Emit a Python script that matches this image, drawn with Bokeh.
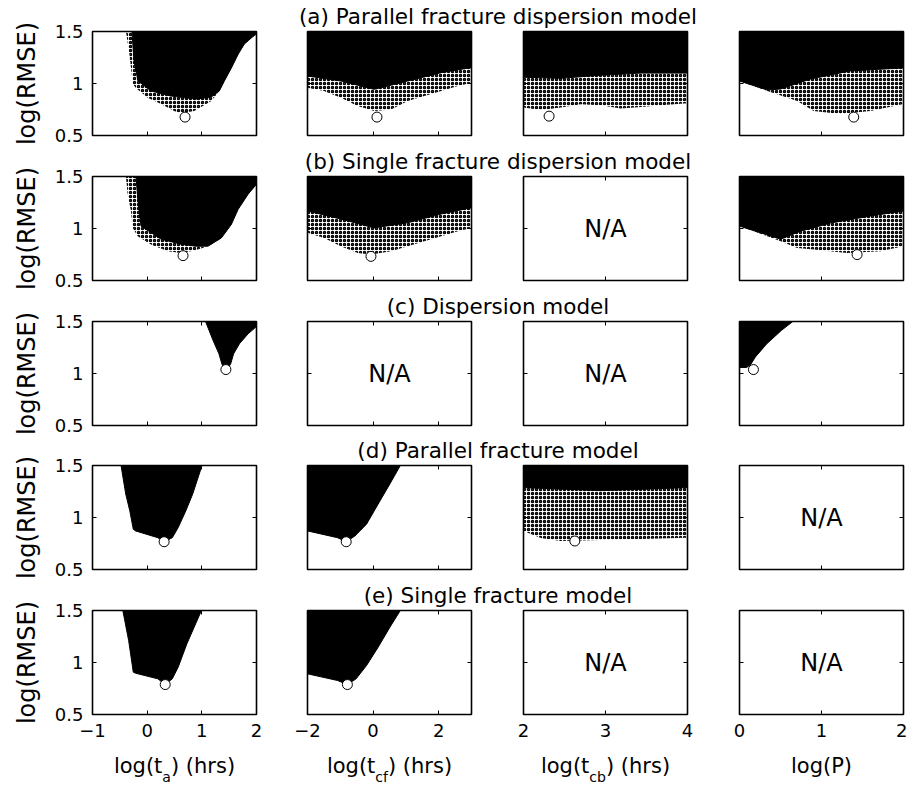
import math
from bokeh.plotting import figure
from bokeh.layouts import column, row
from bokeh.models import Range1d, FixedTicker, LinearAxis
from bokeh.embed import file_html
from bokeh.resources import INLINE
from bokeh.core.properties import value

FONT = "DejaVu Sans"

# ---------------- data ----------------
TITLES = ["(a) Parallel fracture dispersion model",
          "(b) Single fracture dispersion model",
          "(c) Dispersion model",
          "(d) Parallel fracture model",
          "(e) Single fracture model"]
Y_MIN, Y_MAX = 0.5, 1.5
Y_TICKS = [0.5, 1, 1.5]
COL_XMIN = [-1, -2, 2, 0]
COL_XMAX = [2, 3, 4, 2]
COL_TICKS = [[-1, 0, 1, 2], [-2, 0, 2], [2, 3, 4], [0, 1, 2]]
X_LABEL_HEAD = ["log(t", "log(t", "log(t", "log(P)"]
X_LABEL_SUB = ["a", "cf", "cb", ""]
X_LABEL_TAIL = [") (hrs)", ") (hrs)", ") (hrs)", ""]
Y_LABEL = "log(RMSE)"
NA_TEXT = "N/A"

# (a) parallel fracture dispersion model
A1_CORE_X = [-0.278, -0.241, -0.168, 0.071, 0.438, 0.898, 1.173, 1.32, 1.412, 1.541, 1.669, 1.779, 1.908, 2.0]
A1_CORE_Y = [1.5, 1.217, 1.024, 0.928, 0.879, 0.85, 0.87, 0.928, 1.024, 1.15, 1.285, 1.381, 1.439, 1.478]
A1_FRINGE_X = [-0.388, -0.333, -0.26, -0.205, 0.016, 0.255, 0.493, 0.621, 0.861, 1.173, 1.32, 1.412, 1.541, 1.669, 1.779, 1.908, 2.0]
A1_FRINGE_Y = [1.5, 1.314, 0.995, 0.957, 0.86, 0.802, 0.735, 0.715, 0.735, 0.831, 0.928, 1.024, 1.15, 1.285, 1.381, 1.439, 1.478]
A1_BEST = (0.693, 0.677)

A2_CORE_X = [-2.0, -0.982, 0.035, 1.056, 2.074, 3.0]
A2_CORE_Y = [1.072, 1.024, 0.944, 1.024, 1.104, 1.153]
A2_FRINGE_X = [-2.0, -1.493, -0.982, -0.472, 0.035, 0.546, 1.056, 1.563, 2.074, 2.584, 3.0]
A2_FRINGE_Y = [0.959, 0.928, 0.863, 0.783, 0.735, 0.751, 0.831, 0.879, 0.928, 0.976, 1.008]
A2_BEST = (0.118, 0.677)

A3_CORE_X = [2.0, 2.455, 2.943, 3.431, 4.0]
A3_CORE_Y = [1.06, 1.05, 1.08, 1.1, 1.1]
A3_FRINGE_X = [2.0, 2.211, 2.455, 2.699, 2.943, 3.187, 3.431, 3.675, 4.0]
A3_FRINGE_Y = [0.77, 0.745, 0.77, 0.8, 0.79, 0.76, 0.775, 0.79, 0.81]
A3_BEST = (2.312, 0.686)

A4_CORE_X = [0.0, 0.34, 0.502, 0.866, 1.352, 2.0]
A4_CORE_Y = [1.024, 0.937, 0.947, 1.043, 1.121, 1.15]
A4_FRINGE_X = [0.0, 0.34, 0.705, 0.903, 1.231, 1.595, 2.0]
A4_FRINGE_Y = [1.024, 0.928, 0.831, 0.735, 0.706, 0.735, 0.802]
A4_BEST = (1.393, 0.677)

# (b) single fracture dispersion model
B1_CORE_X = [-0.205, -0.168, -0.113, 0.255, 0.622, 0.898, 1.113, 1.357, 1.54, 1.664, 1.847, 2.0]
B1_CORE_Y = [1.5, 1.265, 1.023, 0.897, 0.849, 0.829, 0.83, 0.909, 1.039, 1.184, 1.33, 1.426]
B1_FRINGE_X = [-0.388, -0.357, -0.296, -0.265, -0.173, 0.071, 0.378, 0.622, 0.866, 1.113, 1.357, 1.54, 1.664, 1.847, 2.0]
B1_FRINGE_Y = [1.5, 1.33, 1.168, 1.007, 0.926, 0.846, 0.781, 0.764, 0.788, 0.83, 0.909, 1.039, 1.184, 1.33, 1.426]
B1_BEST = (0.656, 0.739)

B2_CORE_X = [-2.0, -0.982, 0.026, 1.056, 2.074, 3.0]
B2_CORE_Y = [1.168, 1.091, 1.006, 1.055, 1.139, 1.2]
B2_FRINGE_X = [-2.0, -1.493, -0.982, -0.472, -0.065, 0.546, 1.056, 1.563, 2.074, 2.584, 3.0]
B2_FRINGE_Y = [0.958, 0.909, 0.829, 0.764, 0.749, 0.781, 0.829, 0.878, 0.926, 0.974, 1.006]
B2_BEST = (-0.065, 0.732)

B4_CORE_X = [0.0, 0.502, 0.745, 1.109, 1.595, 2.0]
B4_CORE_Y = [1.023, 0.897, 0.974, 1.052, 1.12, 1.168]
B4_FRINGE_X = [0.0, 0.502, 0.705, 0.906, 1.312, 1.717, 2.0]
B4_FRINGE_Y = [1.023, 0.878, 0.813, 0.797, 0.764, 0.781, 0.829]
B4_BEST = (1.434, 0.749)

# (c) dispersion model
C1_CORE_X = [1.068, 1.206, 1.313, 1.366, 1.394, 1.441, 1.486, 1.528, 1.581, 1.688, 1.847, 1.985, 2.0]
C1_CORE_Y = [1.5, 1.317, 1.189, 1.093, 1.058, 1.029, 1.058, 1.093, 1.189, 1.286, 1.382, 1.445, 1.452]
C1_BEST = (1.44, 1.038)

C4_CORE_X = [0.65, 0.509, 0.333, 0.192, 0.137, 0.088, 0.0]
C4_CORE_Y = [1.5, 1.413, 1.286, 1.157, 1.087, 1.058, 1.058]
C4_BEST = (0.17, 1.038)

# (d) parallel fracture model
D1_CORE_X = [-0.478, -0.392, -0.318, -0.254, -0.212, 0.194, 0.312, 0.46, 0.567, 0.707, 0.833, 0.993, 1.0]
D1_CORE_Y = [1.5, 1.226, 1.064, 0.887, 0.871, 0.806, 0.767, 0.806, 0.903, 1.064, 1.226, 1.484, 1.5]
D1_BEST = (0.31, 0.767)

D2_CORE_X = [0.83, 0.512, 0.154, -0.2, -0.554, -0.82, -1.086, -2.0]
D2_CORE_Y = [1.5, 1.323, 1.129, 0.936, 0.822, 0.767, 0.806, 0.871]
D2_BEST = (-0.82, 0.767)

D3_CORE_X = [2.0, 2.943, 4.0]
D3_CORE_Y = [1.287, 1.258, 1.287]
D3_FRINGE_X = [2.0, 2.211, 2.455, 2.943, 3.431, 4.0]
D3_FRINGE_Y = [0.871, 0.803, 0.774, 0.784, 0.793, 0.806]
D3_BEST = (2.626, 0.774)

# (e) single fracture model
E1_CORE_X = [-0.445, -0.339, -0.254, -0.212, 0.194, 0.332, 0.46, 0.567, 0.727, 0.887, 0.993]
E1_CORE_Y = [1.5, 1.212, 0.907, 0.897, 0.843, 0.788, 0.843, 0.955, 1.18, 1.372, 1.5]
E1_BEST = (0.33, 0.788)

E2_CORE_X = [0.83, 0.512, 0.154, -0.2, -0.518, -0.784, -1.086, -2.0]
E2_CORE_Y = [1.5, 1.339, 1.147, 0.971, 0.843, 0.788, 0.827, 0.891]
E2_BEST = (-0.784, 0.788)

# panel table: (core_x, core_y, fringe_x, fringe_y, best) or None for N/A
PANELS = [
    [(A1_CORE_X, A1_CORE_Y, A1_FRINGE_X, A1_FRINGE_Y, A1_BEST),
     (A2_CORE_X, A2_CORE_Y, A2_FRINGE_X, A2_FRINGE_Y, A2_BEST),
     (A3_CORE_X, A3_CORE_Y, A3_FRINGE_X, A3_FRINGE_Y, A3_BEST),
     (A4_CORE_X, A4_CORE_Y, A4_FRINGE_X, A4_FRINGE_Y, A4_BEST)],
    [(B1_CORE_X, B1_CORE_Y, B1_FRINGE_X, B1_FRINGE_Y, B1_BEST),
     (B2_CORE_X, B2_CORE_Y, B2_FRINGE_X, B2_FRINGE_Y, B2_BEST),
     None,
     (B4_CORE_X, B4_CORE_Y, B4_FRINGE_X, B4_FRINGE_Y, B4_BEST)],
    [(C1_CORE_X, C1_CORE_Y, None, None, C1_BEST),
     None, None,
     (C4_CORE_X, C4_CORE_Y, None, None, C4_BEST)],
    [(D1_CORE_X, D1_CORE_Y, None, None, D1_BEST),
     (D2_CORE_X, D2_CORE_Y, None, None, D2_BEST),
     (D3_CORE_X, D3_CORE_Y, D3_FRINGE_X, D3_FRINGE_Y, D3_BEST),
     None],
    [(E1_CORE_X, E1_CORE_Y, None, None, E1_BEST),
     (E2_CORE_X, E2_CORE_Y, None, None, E2_BEST),
     None, None],
]

# ---------------- layout geometry ----------------
PAGE_H = 785
YLAB_W = 44
FRAME_W, FRAME_H = 164, 104
BORDER_L = [48, 25, 25, 25]
BORDER_R = [26, 27, 27, 4]
BORDER_T = 2
BORDER_B = [11, 11, 10, 11, 32]
TITLE_H = [29, 28, 28, 28, 28]
XLAB_H = 39
MAIN_W = sum(BORDER_L) + sum(BORDER_R) + 4 * FRAME_W

COL_W = [BORDER_L[c] + FRAME_W + BORDER_R[c] for c in range(4)]
COL_CENTER = [sum(COL_W[:c]) + BORDER_L[c] + FRAME_W / 2 for c in range(4)]
FRAME_LEFT_ALL = BORDER_L[0]
FRAME_RIGHT_ALL = sum(COL_W[:3]) + BORDER_L[3] + FRAME_W
TITLE_W = MAIN_W - COL_W[0]
TITLE_CX = (FRAME_LEFT_ALL + FRAME_RIGHT_ALL) / 2 - COL_W[0]

ROW_CENTER = []
_y = 0
for _r in range(5):
    _y += TITLE_H[_r] + BORDER_T
    ROW_CENTER.append(_y + FRAME_H / 2)
    _y += FRAME_H + BORDER_B[_r]

TICK_FS = "18px"
LABEL_FS = 21
SUB_FS = 14
EM = {"l": .278, "o": .612, "g": .635, "(": .390, ")": .390, "t": .392, " ": .318,
      "h": .634, "r": .411, "s": .521, "a": .613, "c": .550, "f": .352, "b": .635, "P": .603}


def text_w(s, fs):
    return sum(EM.get(ch, 0.6) for ch in s) * fs


def style_axis(ax, ticks, show, overrides=None):
    ax.ticker = FixedTicker(ticks=ticks)
    ax.major_tick_in = 4
    ax.major_tick_out = 0
    ax.major_tick_line_color = "black"
    ax.major_tick_line_width = 1
    ax.minor_tick_line_color = None
    ax.axis_line_color = None
    if show:
        ax.major_label_text_font = FONT
        ax.major_label_text_font_size = TICK_FS
        ax.major_label_text_color = "black"
        ax.major_label_standoff = 9
        if overrides:
            ax.major_label_overrides = overrides
    else:
        ax.major_label_text_font_size = "1px"
        ax.major_label_text_color = None
        ax.major_label_overrides = {t: "" for t in ticks}
        ax.major_label_standoff = 0


def bare_fig(w, h):
    p = figure(width=w, height=h, x_range=Range1d(0, w), y_range=Range1d(0, h),
               min_border=0, toolbar_location=None, output_backend="svg", tools="",
               x_axis_location=None, y_axis_location=None)
    p.outline_line_color = None
    p.grid.visible = False
    return p


def title_fig(i):
    h = TITLE_H[i]
    p = bare_fig(TITLE_W, h)
    p.text(x=[TITLE_CX], y=[13], text=[TITLES[i]], text_font=value(FONT),
           text_font_size="21.5px", text_align="center", text_baseline="middle",
           text_color="black")
    return p


def ylabel_fig():
    p = bare_fig(YLAB_W, PAGE_H)
    p.text(x=[26] * 5, y=[PAGE_H - yc for yc in ROW_CENTER], text=[Y_LABEL] * 5,
           angle=math.pi / 2, text_font=value(FONT), text_font_size="24px",
           text_align="center", text_baseline="middle", text_color="black")
    return p


def xlabel_fig():
    p = bare_fig(MAIN_W, XLAB_H)
    for c in range(4):
        head, sub, tail = X_LABEL_HEAD[c], X_LABEL_SUB[c], X_LABEL_TAIL[c]
        wh, ws, wt = text_w(head, LABEL_FS), text_w(sub, SUB_FS), text_w(tail, LABEL_FS)
        x0 = COL_CENTER[c] - (wh + ws + wt) / 2
        p.text(x=[x0], y=[20], text=[head], text_font=value(FONT),
               text_font_size=f"{LABEL_FS}px", text_align="left", text_baseline="middle",
               text_color="black")
        if sub:
            p.text(x=[x0 + wh], y=[9], text=[sub], text_font=value(FONT),
                   text_font_size=f"{SUB_FS}px", text_align="left", text_baseline="middle",
                   text_color="black")
        if tail:
            p.text(x=[x0 + wh + ws], y=[20], text=[tail], text_font=value(FONT),
                   text_font_size=f"{LABEL_FS}px", text_align="left", text_baseline="middle",
                   text_color="black")
    return p


def panel(r, c):
    xmin, xmax = COL_XMIN[c], COL_XMAX[c]
    top_border = BORDER_T + (TITLE_H[r] if c == 0 else 0)
    p = figure(frame_width=FRAME_W, frame_height=FRAME_H,
               x_range=Range1d(xmin, xmax), y_range=Range1d(Y_MIN, Y_MAX),
               min_border_left=BORDER_L[c], min_border_right=BORDER_R[c],
               min_border_top=top_border, min_border_bottom=BORDER_B[r],
               toolbar_location=None, output_backend="svg", tools="")
    p.grid.visible = False
    p.background_fill_color = "white"
    p.border_fill_color = "white"
    p.outline_line_color = "black"
    p.outline_line_width = 1.6

    overrides = {t: (("\u2212" + str(abs(t))) if t < 0 else str(t)) for t in COL_TICKS[c]}
    style_axis(p.xaxis[0], COL_TICKS[c], r == 4, overrides)
    style_axis(p.yaxis[0], Y_TICKS, c == 0, {0.5: "0.5", 1: "1", 1.5: "1.5"})
    top = LinearAxis()
    style_axis(top, COL_TICKS[c], False)
    p.add_layout(top, "above")
    right = LinearAxis()
    style_axis(right, Y_TICKS, False)
    p.add_layout(right, "right")

    spec = PANELS[r][c]
    if spec is None:
        p.text(x=[(xmin + xmax) / 2], y=[(Y_MIN + Y_MAX) / 2], text=[NA_TEXT],
               text_font=value(FONT), text_font_size="24px", text_align="center",
               text_baseline="middle", text_color="black")
    else:
        cx, cy, fx, fy, best = spec
        if fx is not None:
            p.patch(fx + [fx[-1], fx[0]], fy + [Y_MAX, Y_MAX], fill_color=None,
                    line_color=None, hatch_pattern="ring", hatch_color="black",
                    hatch_scale=4, hatch_weight=1.5)
        p.patch(cx + [cx[-1], cx[0]], cy + [Y_MAX, Y_MAX], fill_color="black",
                line_color="black", line_width=1)
        p.scatter(x=[best[0]], y=[best[1]], marker="circle", size=10,
                  fill_color="white", line_color="black", line_width=1)
    return p


items = []
for r in range(5):
    right_block = column(title_fig(r), row(*[panel(r, c) for c in (1, 2, 3)], spacing=0), spacing=0)
    items.append(row(panel(r, 0), right_block, spacing=0))
items.append(xlabel_fig())

layout = row(ylabel_fig(), column(*items, spacing=0), spacing=0)
open("out.html", "w").write(file_html(layout, INLINE))
